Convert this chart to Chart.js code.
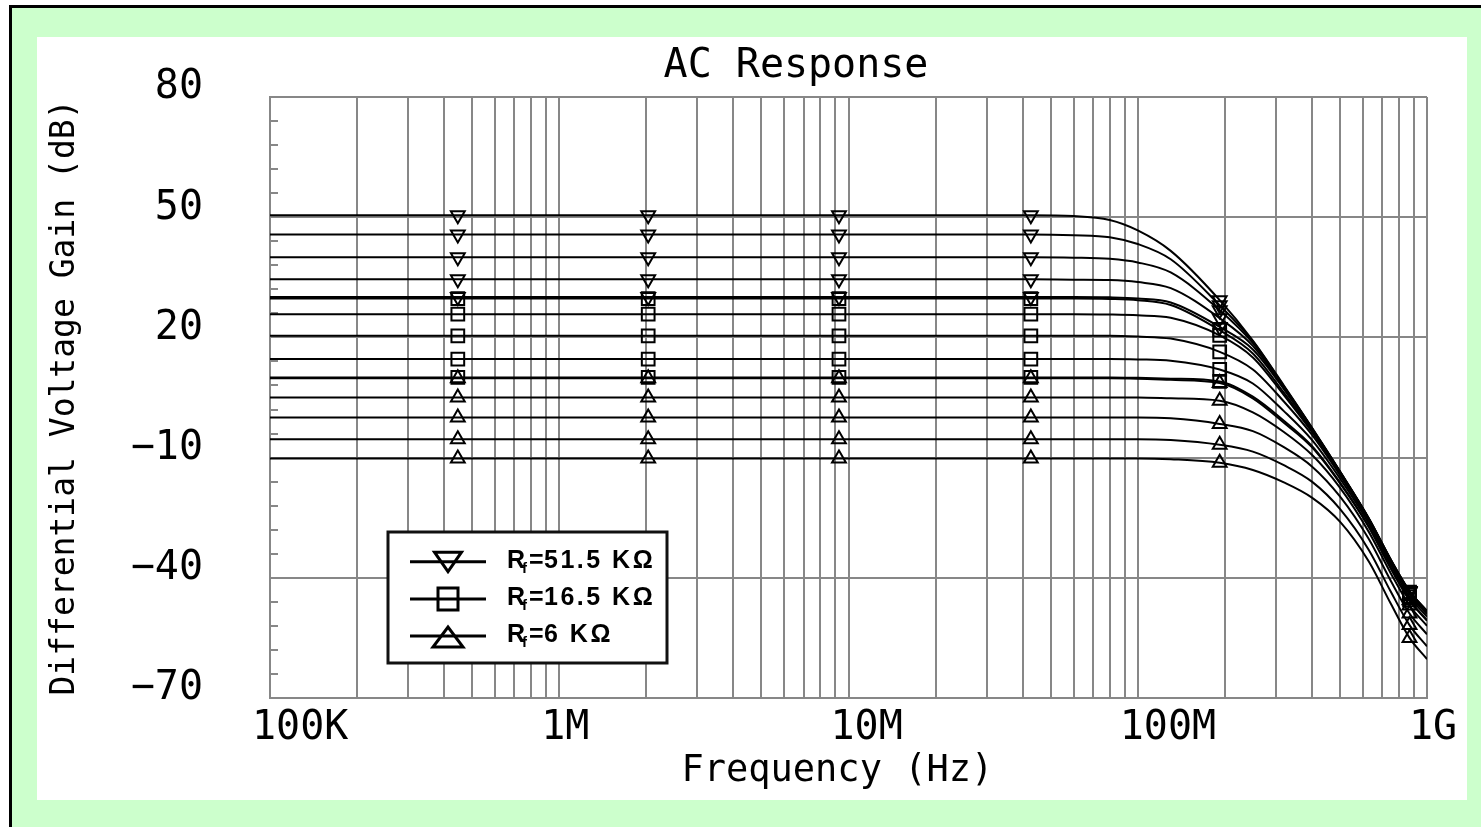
<!DOCTYPE html>
<html>
<head>
<meta charset="utf-8">
<script src="https://cdn.jsdelivr.net/npm/chart.js@4.4.1/dist/chart.umd.min.js"></script>
<style>
  html, body { margin: 0; padding: 0; background: #ffffff; width: 1481px; height: 827px; overflow: hidden; }
  #frame { position: absolute; left: 9px; top: 5px; width: 1469px; height: 819px; background: #ccffcc;
           border-left: 3px solid #000; border-top: 3px solid #000; }
  #panel { position: absolute; left: 37px; top: 37px; width: 1430px; height: 763px; background: #ffffff; }
  canvas { display: block; }
</style>
</head>
<body>
<div id="frame"></div>
<div id="panel"><canvas id="c" width="1430" height="763"></canvas></div>
<script>
// ---------------- DATA ----------------
const chartTitle = 'AC Response';
const xTitle = 'Frequency (Hz)';
const yTitle = 'Differential Voltage Gain (dB)';

const freqHz = [1e5, 4.46e5, 2.03e6, 9.27e6, 4.27e7, 6e7, 8e7, 1e8, 1.3e8, 1.92e8,
                2.5e8, 3.2e8, 4e8, 5e8, 6.3e8, 7.5e8, 8.7e8, 1e9];
const markerFreqs = [4.46e5, 2.03e6, 9.27e6, 4.27e7, 1.92e8, 8.7e8];

// Rf = 51.5 KΩ (down triangles)
const rf51k5_g50 = [50.5,50.5,50.5,50.5,50.5,50.3,49.3,46.7,41.6,29.3,19.2,8.0,-2.5,-13.4,-25.2,-35.5,-43.3,-48.3];
const rf51k5_g45 = [45.7,45.7,45.7,45.7,45.7,45.5,45.0,43.3,39.5,28.0,19.0,7.8,-2.6,-13.5,-25.3,-35.5,-43.3,-48.3];
const rf51k5_g40 = [40.0,40.0,40.0,40.0,40.0,39.9,39.6,38.7,36.2,26.8,18.6,7.7,-2.7,-13.5,-25.3,-35.6,-43.4,-48.4];
const rf51k5_g35 = [34.5,34.5,34.5,34.5,34.5,34.4,34.3,33.8,32.3,24.8,17.9,7.4,-2.8,-13.6,-25.4,-35.7,-43.5,-48.5];
const rf51k5_g30 = [30.1,30.1,30.1,30.1,30.1,30.1,30.0,29.7,28.7,22.6,17.0,7.1,-3.0,-13.7,-25.5,-35.8,-43.6,-48.6];
// Rf = 16.5 KΩ (squares)
const rf16k5_g30 = [29.7,29.7,29.7,29.7,29.7,29.7,29.6,29.3,28.1,21.8,16.0,6.2,-3.3,-13.8,-25.5,-35.8,-43.6,-48.6];
const rf16k5_g25 = [25.8,25.8,25.8,25.8,25.8,25.8,25.7,25.5,24.9,20.5,15.0,5.6,-3.6,-13.9,-25.6,-35.9,-43.7,-48.7];
const rf16k5_g20 = [20.4,20.4,20.4,20.4,20.4,20.4,20.4,20.2,19.7,16.4,12.0,4.0,-4.3,-14.4,-25.9,-36.2,-44.0,-49.1];
const rf16k5_g15 = [14.6,14.6,14.6,14.6,14.6,14.6,14.6,14.5,14.2,12.0,8.5,1.6,-5.6,-15.2,-26.5,-36.8,-44.7,-49.7];
const rf16k5_g10 = [10.0,10.0,10.0,10.0,10.0,10.0,10.0,9.9,9.7,9.0,5.2,-0.8,-7.1,-16.2,-27.3,-37.6,-45.5,-50.6];
// Rf = 6 KΩ (up triangles)
const rf6k_g10  = [9.8,9.8,9.8,9.8,9.8,9.8,9.8,9.7,9.4,8.6,4.8,-1.3,-7.4,-16.4,-27.4,-37.7,-45.6,-50.7];
const rf6k_g5   = [5.0,5.0,5.0,5.0,5.0,5.0,5.0,5.0,4.8,4.2,1.3,-3.6,-9.3,-17.5,-28.6,-38.9,-46.9,-52.0];
const rf6k_g0   = [0.0,0.0,0.0,0.0,0.0,0.0,0.0,0.0,-0.2,-1.6,-3.4,-7.4,-12.2,-19.7,-30.4,-40.8,-48.9,-54.1];
const rf6k_gm5  = [-5.4,-5.4,-5.4,-5.4,-5.4,-5.4,-5.4,-5.4,-5.6,-6.8,-8.5,-11.9,-16.0,-22.8,-33.1,-43.5,-51.8,-57.1];
const rf6k_gm10 = [-10.2,-10.2,-10.2,-10.2,-10.2,-10.2,-10.2,-10.2,-10.4,-11.3,-13.1,-16.2,-20.0,-26.0,-36.0,-46.5,-55.0,-60.3];

const legendNames = ['51.5 KΩ', '16.5 KΩ', '6 KΩ'];

const xTickValues = [1e5, 1e6, 1e7, 1e8, 1e9];
const xTickLabels = ['100K', '1M', '10M', '100M', '1G'];
const yTickValues = [-70, -40, -10, 20, 50, 80];
const yMin = -70, yMax = 80, yMinorStep = 6;

// ---------------- STYLE ----------------
const MONO = '"DejaVu Sans Mono", monospace';
const GRID = '#878787';
const LEGEND_FONT = '"Liberation Sans", Arial, sans-serif';

const families = [
  { name: legendNames[0], style: 'triangle', rot: 180, r: 8, curves: [rf51k5_g50, rf51k5_g45, rf51k5_g40, rf51k5_g35, rf51k5_g30] },
  { name: legendNames[1], style: 'rect',     rot: 0,   r: 9, curves: [rf16k5_g30, rf16k5_g25, rf16k5_g20, rf16k5_g15, rf16k5_g10] },
  { name: legendNames[2], style: 'triangle', rot: 0,   r: 8, curves: [rf6k_g10, rf6k_g5, rf6k_g0, rf6k_gm5, rf6k_gm10] }
];

const datasets = [];
families.forEach(f => {
  f.curves.forEach(vals => {
    datasets.push({
      label: 'Rf = ' + f.name,
      data: vals.map((v, i) => ({ x: freqHz[i], y: v })),
      borderColor: '#000',
      borderWidth: 2,
      cubicInterpolationMode: 'monotone',
      pointStyle: f.style,
      pointRotation: f.rot,
      pointRadius: c => (c.raw && markerFreqs.includes(c.raw.x)) ? f.r : 0,
      pointBackgroundColor: 'rgba(0,0,0,0)',
      pointBorderColor: '#000',
      pointBorderWidth: 2,
      pointHoverRadius: 0
    });
  });
});

const xGridValues = [];
for (let e = 5; e < 9; e++) for (let m = 1; m <= 9; m++) xGridValues.push(m * Math.pow(10, e));
xGridValues.push(1e9);

const decor = {
  id: 'decor',
  beforeDatasetsDraw(chart) {
    const { ctx, chartArea: a, scales: { y } } = chart;
    ctx.save();
    ctx.strokeStyle = GRID; ctx.lineWidth = 2;
    for (let v = yMin + yMinorStep; v < yMax; v += yMinorStep) {
      if ((v - yMin) % 30 === 0) continue;
      const py = Math.round(y.getPixelForValue(v));
      ctx.beginPath(); ctx.moveTo(a.left, py); ctx.lineTo(a.left + 8, py); ctx.stroke();
    }
    ctx.restore();
  },
  afterDraw(chart) {
    const ctx = chart.ctx;
    ctx.save();
    // title
    ctx.fillStyle = '#000';
    ctx.font = '40px ' + MONO;
    ctx.textAlign = 'center'; ctx.textBaseline = 'middle';
    ctx.fillText(chartTitle, 759, 30);

    // legend box
    const bx = 351, by = 495, bw = 279, bh = 131;
    ctx.fillStyle = '#fff';
    ctx.fillRect(bx, by, bw, bh);
    ctx.strokeStyle = '#111'; ctx.lineWidth = 3;
    ctx.strokeRect(bx, by, bw, bh);

    const rowsY = [524.7, 562, 599];
    families.forEach((f, i) => {
      const ly = rowsY[i];
      ctx.strokeStyle = '#000'; ctx.lineWidth = 3;
      ctx.beginPath(); ctx.moveTo(373, ly); ctx.lineTo(449, ly); ctx.stroke();
      const mx = 411;
      ctx.beginPath();
      if (f.style === 'rect') {
        ctx.rect(mx - 10, ly - 11, 20, 22);
      } else if (f.rot === 180) {
        ctx.moveTo(mx - 13.5, ly - 9.5); ctx.lineTo(mx + 13.5, ly - 9.5); ctx.lineTo(mx, ly + 10); ctx.closePath();
      } else {
        ctx.moveTo(mx - 15, ly + 11); ctx.lineTo(mx + 15, ly + 11); ctx.lineTo(mx, ly - 9); ctx.closePath();
      }
      ctx.stroke();
      // text R_f = ...
      const base = ly + 6;
      ctx.fillStyle = '#000';
      ctx.textAlign = 'left'; ctx.textBaseline = 'alphabetic';
      ctx.font = 'bold 25px ' + LEGEND_FONT;
      ctx.fillText('R', 470, base);
      ctx.font = 'bold 15px ' + LEGEND_FONT;
      ctx.fillText('f', 485, base + 5);
      ctx.font = 'bold 25px ' + LEGEND_FONT;
      ctx.fillText('=', 492, base);
      if ('letterSpacing' in ctx) ctx.letterSpacing = '2.5px';
      ctx.fillText(f.name, 507, base);
      if ('letterSpacing' in ctx) ctx.letterSpacing = '0px';
    });
    ctx.restore();
  }
};

new Chart(document.getElementById('c'), {
  type: 'line',
  data: { datasets },
  options: {
    responsive: false,
    animation: false,
    devicePixelRatio: 1,
    layout: { autoPadding: false, padding: { top: 60, right: 40, left: 0, bottom: 0 } },
    plugins: { legend: { display: false }, tooltip: { enabled: false }, title: { display: false } },
    scales: {
      x: {
        type: 'logarithmic', min: 1e5, max: 1e9,
        afterBuildTicks: s => { s.ticks = xGridValues.map(v => ({ value: v })); },
        afterFit: s => { s.height = 102; s.paddingLeft = 0; s.paddingRight = 0; },
        grid: { color: GRID, lineWidth: 2, drawTicks: false },
        border: { color: GRID, width: 2 },
        ticks: {
          autoSkip: false, maxRotation: 0, minRotation: 0, align: 'start', labelOffset: -18, padding: 7,
          color: '#000', font: { family: MONO, size: 40 },
          callback: v => { const i = xTickValues.indexOf(v); return i >= 0 ? xTickLabels[i] : ''; }
        },
        title: { display: true, text: xTitle + ' ', color: '#000', font: { family: MONO, size: 37 }, padding: { top: 0, bottom: 6 } }
      },
      y: {
        type: 'linear', min: yMin, max: yMax,
        afterBuildTicks: s => { s.ticks = yTickValues.map(v => ({ value: v })); },
        afterFit: s => { s.width = 233; s.paddingTop = 0; s.paddingBottom = 0; },
        grid: { color: GRID, lineWidth: 2, drawTicks: false },
        border: { color: GRID, width: 2 },
        ticks: {
          padding: 67, labelOffset: -9, color: '#000', font: { family: MONO, size: 40 },
          callback: v => (v < 0 ? '\u2212' : '') + Math.abs(v)
        },
        title: { display: true, text: yTitle, color: '#000', font: { family: MONO, size: 33 }, padding: { top: 9, bottom: 0 } }
      }
    }
  },
  plugins: [decor]
});
</script>
</body>
</html>
